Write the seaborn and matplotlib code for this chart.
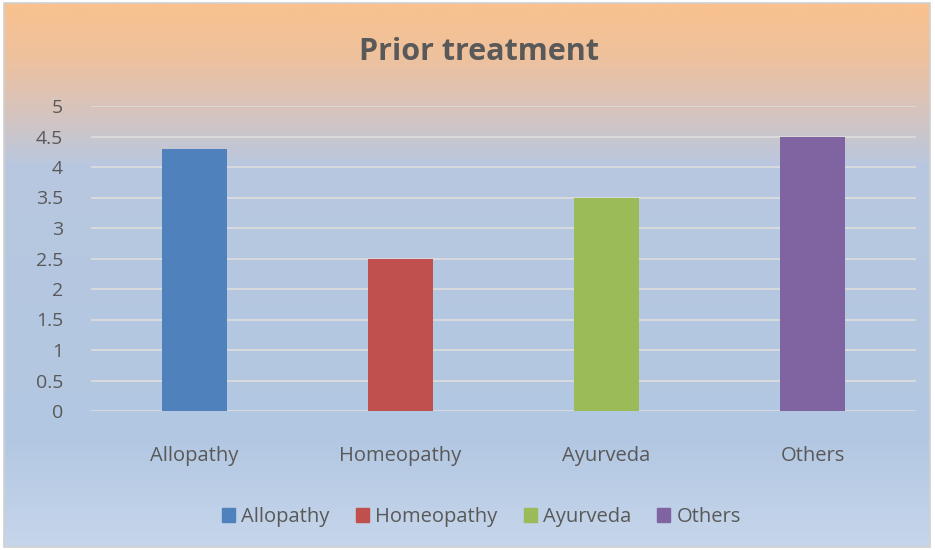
import numpy as np
import pandas as pd
import matplotlib.pyplot as plt
import seaborn as sns
from matplotlib.colors import LinearSegmentedColormap
from matplotlib.patches import Rectangle

sns.set_style("white")
plt.rcParams['font.family'] = ['Open Sans', 'DejaVu Sans']

# data
categories = ["Allopathy", "Homeopathy", "Ayurveda", "Others"]
values = [4.3, 2.5, 3.5, 4.5]
bar_colors = ["#4F81BD", "#C0504D", "#9BBB59", "#8064A2"]
yticks = [0, 0.5, 1, 1.5, 2, 2.5, 3, 3.5, 4, 4.5, 5]

df = pd.DataFrame({"treatment": categories, "value": values})

fig = plt.figure(figsize=(9.35, 5.5), dpi=100)

# gradient background (orange top -> light blue)
bg = fig.add_axes([4/935, 3/550, 926/935, 544/550], zorder=-10)
cmap = LinearSegmentedColormap.from_list(
    "bg", [(0.0, "#F9C18E"), (0.10, "#EEC19E"), (0.20, "#D6C4BE"),
           (0.30, "#B8C8E0"), (0.80, "#B2C7E2"), (1.0, "#C6D6EB")])
grad = np.linspace(0, 1, 256).reshape(-1, 1)
bg.imshow(grad, aspect="auto", cmap=cmap, extent=[0, 1, 1, 0])
bg.set_axis_off()
fig.patches.append(Rectangle((4/935, 3/550), 926/935, 544/550, transform=fig.transFigure,
                             fill=False, edgecolor="#D0D0D0", linewidth=1.2))

ax = fig.add_axes([91/935, 1 - 411/550, 825/935, 305/550])
ax.set_facecolor("none")

sns.barplot(data=df, x="treatment", y="value", hue="treatment", palette=bar_colors,
            dodge=False, width=0.315, saturation=1, ax=ax, legend=False, zorder=3,
            linewidth=0, edgecolor="none")

ax.set_ylim(0, 5)
ax.set_yticks(yticks)
ax.set_yticklabels([f"{t:g}" for t in yticks])
ax.yaxis.grid(True, color="#DCDCDC", linewidth=1.3, zorder=0)
ax.set_axisbelow(True)
sns.despine(ax=ax, left=True, bottom=True)
ax.tick_params(axis="both", length=0, labelsize=14, colors="#595959")
ax.tick_params(axis="y", pad=20)
ax.tick_params(axis="x", labelsize=14.5, pad=25)
ax.set_xlabel("")
ax.set_ylabel("")

fig.text(0.512, 1 - 52/550, "Prior treatment", ha="center", va="center",
         fontsize=22, fontweight="bold", color="#595959")

handles = [Rectangle((0, 0), 1, 1, color=c) for c in bar_colors]
leg = fig.legend(handles, categories, loc="center", bbox_to_anchor=(0.515, 1 - 517/550),
                 ncol=4, frameon=False, fontsize=14.5, handlelength=0.65, handleheight=0.65,
                 handletextpad=0.3, columnspacing=1.3)
for t in leg.get_texts():
    t.set_color("#595959")

fig.savefig("out.png", dpi=100)
